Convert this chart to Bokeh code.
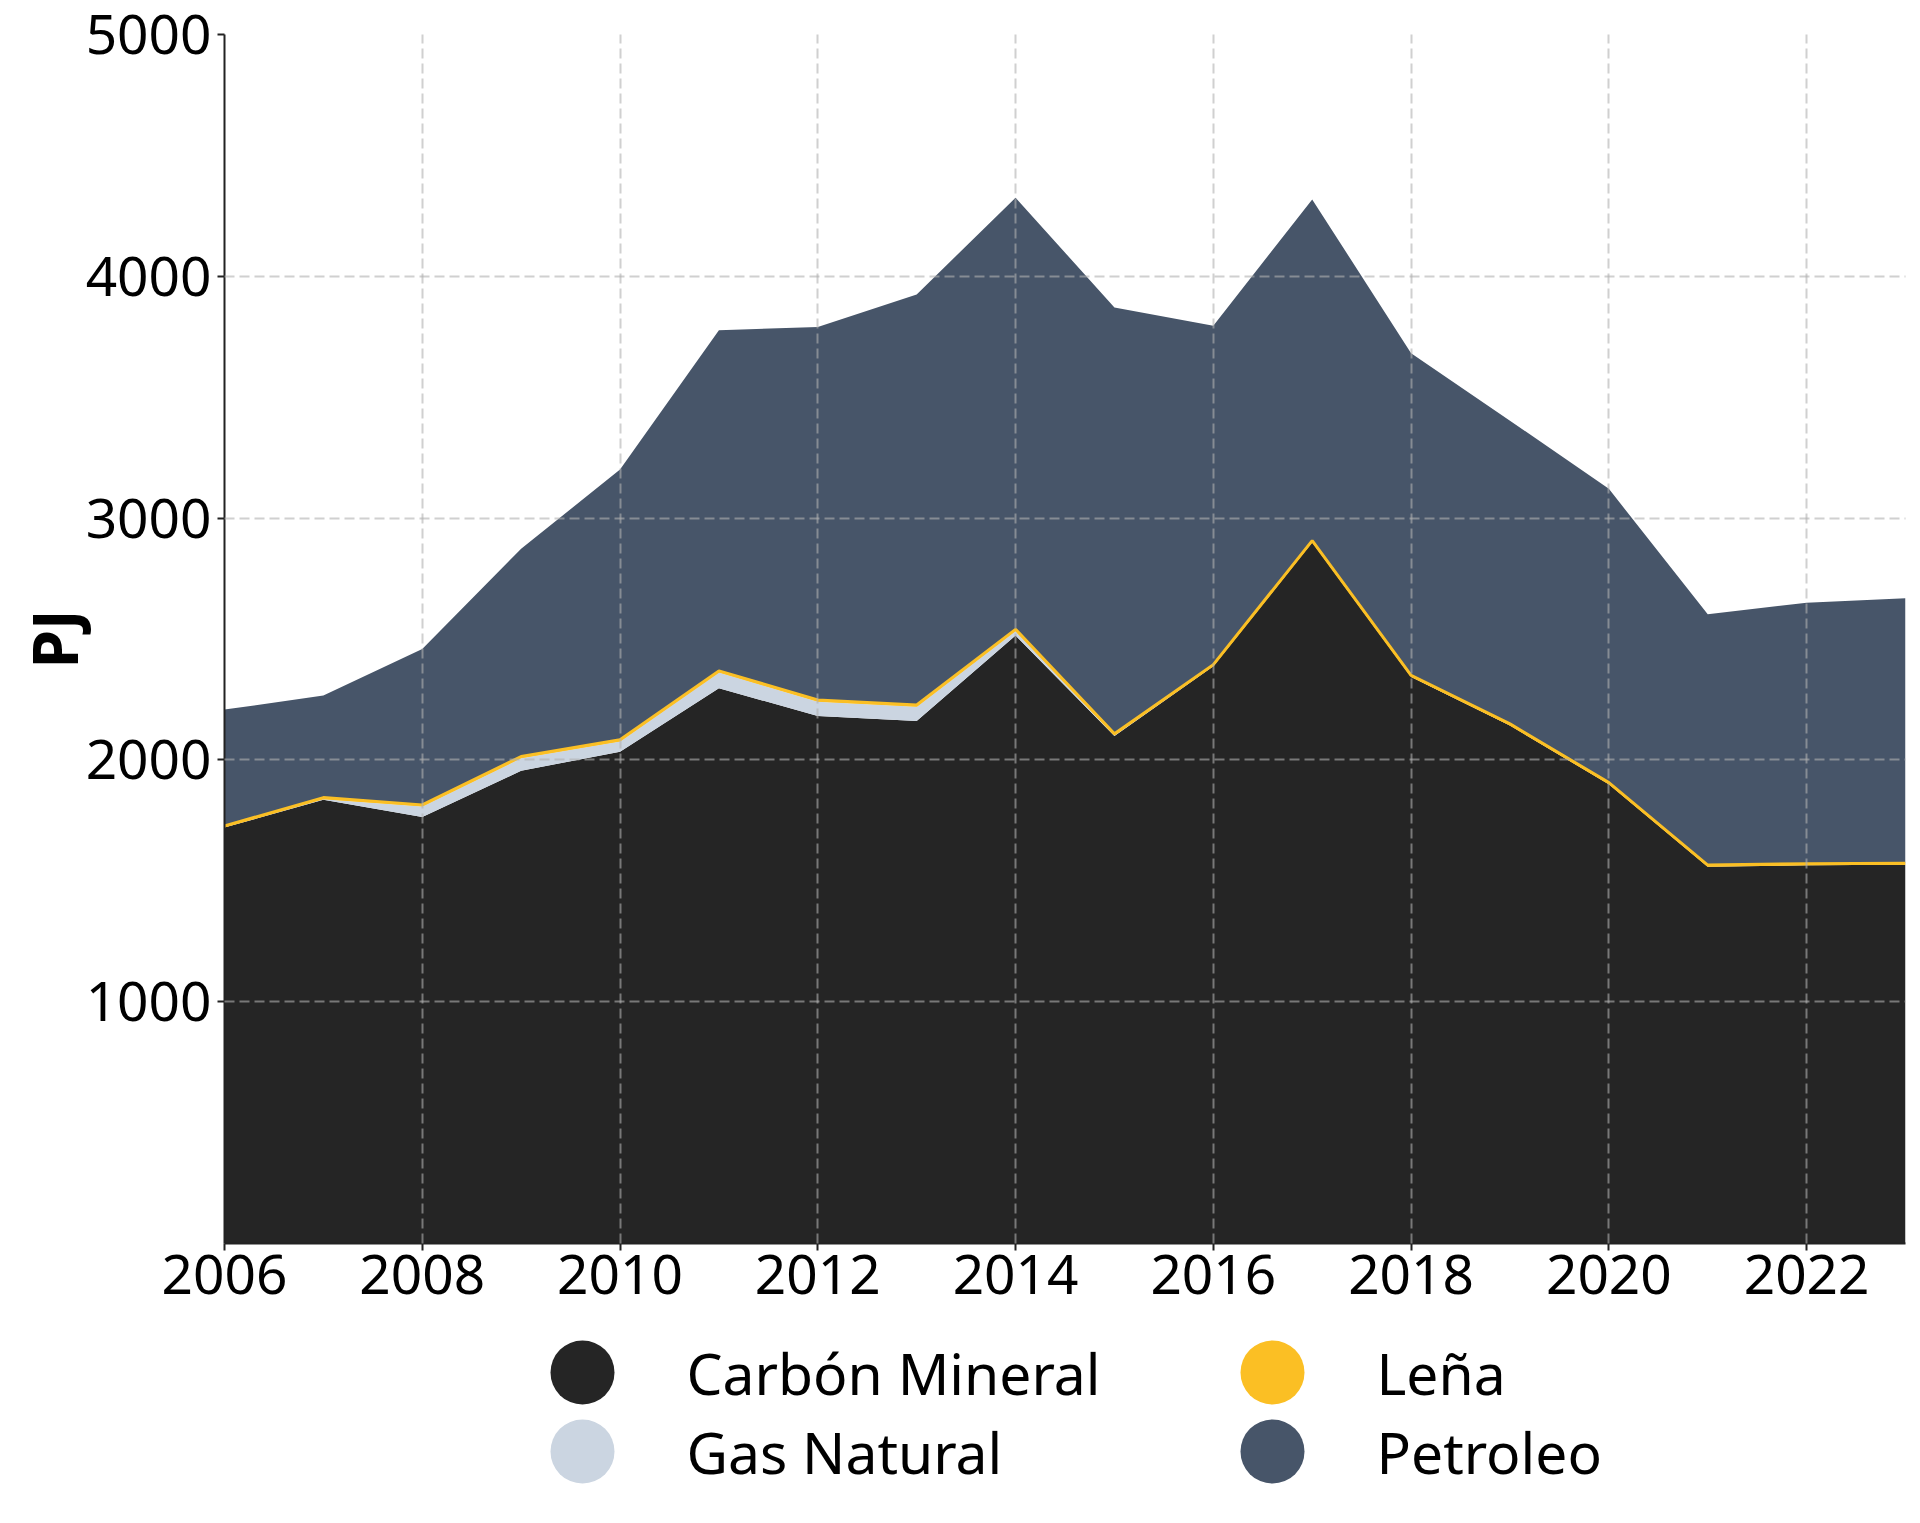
from bokeh.plotting import figure
from bokeh.models import ColumnDataSource, Range1d, FixedTicker
from bokeh.layouts import column
from bokeh.transform import stack
from bokeh.core.properties import value
from bokeh.embed import file_html
from bokeh.resources import INLINE

years = [2006, 2007, 2008, 2009, 2010, 2011, 2012, 2013, 2014, 2015, 2016, 2017, 2018, 2019, 2020, 2021, 2022, 2023]
carbon = [1720, 1835, 1764, 1955, 2034, 2296, 2182, 2161, 2514, 2099, 2387, 2900, 2343, 2142, 1899, 1558, 1564, 1566]
gas = [0, 2, 43, 52, 42, 65, 59, 59, 19, 2, 0, 0, 0, 0, 0, 0, 0, 0]
lena = [7, 7, 7, 7, 7, 7, 7, 7, 7, 7, 7, 7, 7, 7, 7, 7, 7, 7]
petroleo = [481, 422, 645, 859, 1118, 1409, 1542, 1698, 1785, 1763, 1402, 1411, 1332, 1254, 1215, 1037, 1079, 1096]

series = ["carbon", "gas", "lena", "petroleo"]
labels = ["Carbón Mineral", "Gas Natural", "Leña", "Petroleo"]
colors = ["#252525", "#cbd5e1", "#fbbf24", "#475569"]
y_ticks = [1000, 2000, 3000, 4000, 5000]
x_ticks = [2006, 2008, 2010, 2012, 2014, 2016, 2018, 2020, 2022]

source = ColumnDataSource(dict(year=years, carbon=carbon, gas=gas, lena=lena, petroleo=petroleo))

FONT = "Noto Sans"
W = 1920
BL, BR = 224, 15

p = figure(width=W, height=1331,
           min_border_left=BL, min_border_top=34, min_border_right=BR, min_border_bottom=88,
           x_range=Range1d(2006, 2023), y_range=Range1d(0, 5000),
           output_backend="svg", toolbar_location=None)
p.outline_line_color = None
p.background_fill_color = "white"
p.border_fill_color = "white"

p.varea_stack(series, x="year", source=source, color=colors)
p.line(x="year", y=stack("carbon", "gas", "lena"), source=source,
       line_color="#fbbf24", line_width=3)

for ax in (p.xaxis[0], p.yaxis[0]):
    ax.axis_line_color = "#222222"
    ax.axis_line_width = 2
    ax.major_tick_line_color = "#222222"
    ax.major_tick_line_width = 2
    ax.major_tick_out = 7
    ax.major_tick_in = 0
    ax.minor_tick_line_color = None
    ax.major_label_text_font = FONT
    ax.major_label_text_font_size = "55px"
    ax.major_label_text_color = "black"

p.xaxis[0].ticker = FixedTicker(ticks=x_ticks)
p.yaxis[0].ticker = FixedTicker(ticks=y_ticks)
p.xaxis[0].major_label_standoff = 4
p.yaxis[0].major_label_standoff = 6
p.yaxis[0].axis_label = "PJ"
p.yaxis[0].axis_label_text_font = FONT
p.yaxis[0].axis_label_text_font_style = "bold"
p.yaxis[0].axis_label_text_font_size = "62px"
p.yaxis[0].axis_label_text_color = "black"
p.yaxis[0].axis_label_standoff = -13

for g in (p.xgrid[0], p.ygrid[0]):
    g.level = "overlay"
    g.grid_line_color = "#b0b0b0"
    g.grid_line_alpha = 0.6
    g.grid_line_width = 2
    g.grid_line_dash = "10 5"
p.xgrid[0].ticker = FixedTicker(ticks=x_ticks)
p.ygrid[0].ticker = FixedTicker(ticks=y_ticks)

# legend panel (2 columns x 2 rows, column-major order); x in page pixels
LH = 170
col_x = [582, 1272]
row_y = [41, 120]
text_dx = 104
lg_x, lg_y, tx = [], [], []
for i in range(len(labels)):
    c, r = divmod(i, 2)
    lg_x.append(col_x[c])
    lg_y.append(row_y[r])
    tx.append(col_x[c] + text_dx)
lsrc = ColumnDataSource(dict(x=lg_x, y=lg_y, tx=tx, label=labels, color=colors))

lg = figure(width=W, height=LH, x_range=Range1d(BL, W - BR), y_range=Range1d(LH, 0),
            x_axis_location=None, y_axis_location=None,
            min_border_left=BL, min_border_right=BR, min_border_top=0, min_border_bottom=0,
            output_backend="svg", toolbar_location=None)
lg.grid.visible = False
lg.outline_line_color = None
lg.scatter(x="x", y="y", source=lsrc, marker="circle", size=64, fill_color="color", line_color=None)
lg.text(x="tx", y="y", text="label", source=lsrc, text_baseline="middle", text_align="left",
        text_font=value(FONT), text_font_size="57px", text_color="black")

layout = column(p, lg, spacing=0)
open("out.html", "w").write(file_html(layout, INLINE))
